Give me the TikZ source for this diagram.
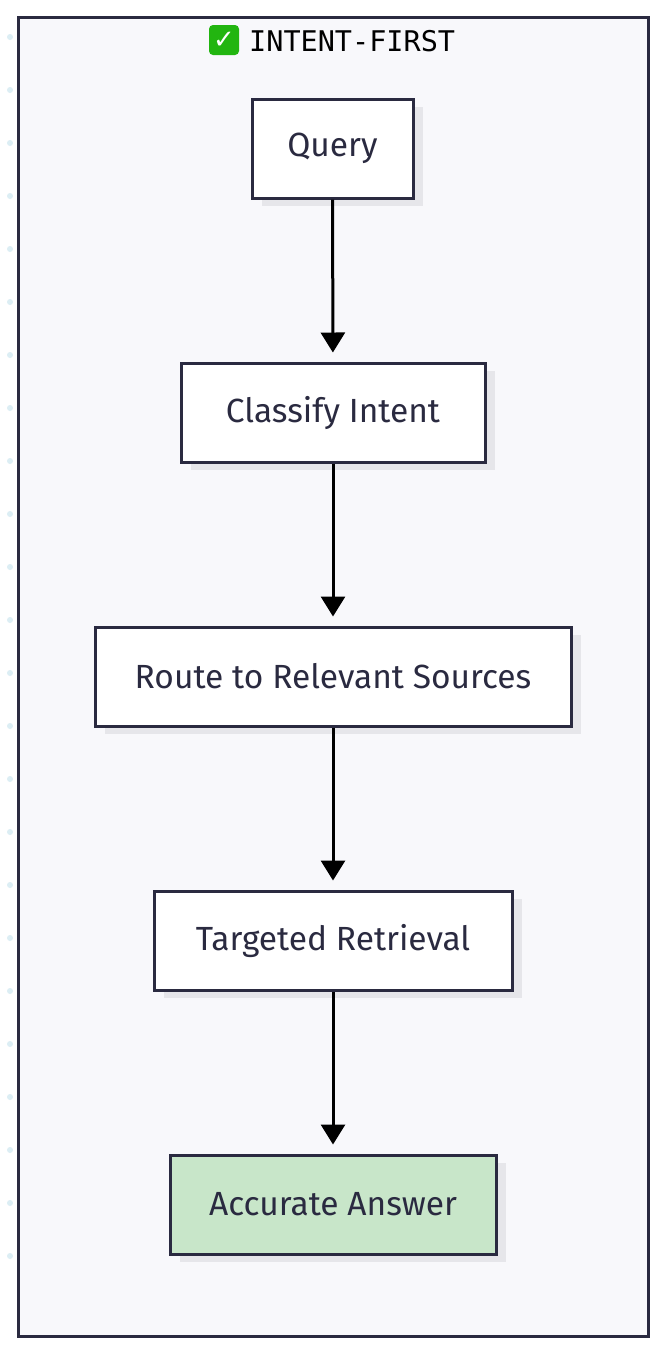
\documentclass[tikz,border=0pt]{standalone}
\usepackage{fontspec}
\usetikzlibrary{shadows,arrows.meta}
\setmainfont{Fira Sans}
\newfontfamily\monof{DejaVu Sans Mono}
\newfontfamily\dejav{DejaVu Sans}
\definecolor{ink}{HTML}{2A2A40}
\definecolor{bgc}{HTML}{F8F8FB}
\definecolor{shd}{HTML}{E6E6EA}
\definecolor{grn}{HTML}{C8E6C9}
\definecolor{dotc}{HTML}{DCEEF4}
\definecolor{emo}{HTML}{22B510}
\begin{document}
\begin{tikzpicture}[x=1pt,y=-1pt,
  box/.style={draw=ink,line width=3pt,fill=white,text=ink,font=\fontsize{33.5}{36}\selectfont,inner sep=0pt,minimum height=99pt,
    drop shadow={shadow xshift=10pt,shadow yshift=-8pt,fill=shd,opacity=1}},
  arr/.style={line width=3pt,shorten >=9pt,-{Triangle[length=20pt,width=24pt]}}]
\useasboundingbox (0,0) rectangle (666,1352);
\fill[white] (0,0) rectangle (666,1352);
\foreach \i in {0,...,23} \fill[dotc] (10,37+53*\i) circle (3);
\draw[draw=ink,line width=3pt,fill=bgc] (18,17) rectangle (648,1336);
\node[fill=emo,rounded corners=4pt,minimum size=30pt,inner sep=0pt,text=white,font=\dejav\bfseries\fontsize{26}{26}\selectfont] (emj) at (224,40) {✓};
\node[anchor=west,font=\monof\fontsize{28.5}{30}\selectfont,inner sep=0pt] (title) at (249,41) {INTENT-FIRST};
\node[box,minimum width=161pt] (q) at (332.5,148.5) {Query};
\node[box,minimum width=304pt] (c) at (333,412.5) {Classify Intent};
\node[box,minimum width=476pt] (r) at (333,676.5) {Route to Relevant Sources};
\node[box,minimum width=358pt] (t) at (333,940.5) {Targeted Retrieval};
\node[box,minimum width=326pt,fill=grn] (a) at (333,1204.5) {Accurate Answer};
\draw[arr] (q) -- (c);
\draw[arr] (c) -- (r);
\draw[arr] (r) -- (t);
\draw[arr] (t) -- (a);
\end{tikzpicture}
\end{document}
